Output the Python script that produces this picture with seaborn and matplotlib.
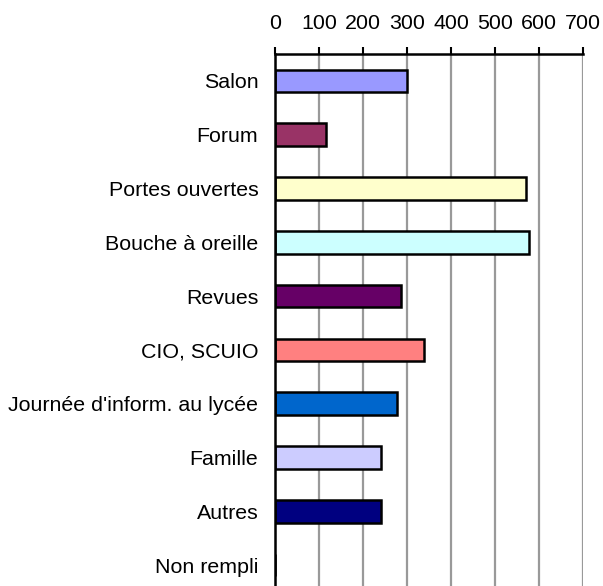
import numpy as np
import pandas as pd
import matplotlib.pyplot as plt
import seaborn as sns

# data
categories = ["Salon", "Forum", "Portes ouvertes", "Bouche à oreille", "Revues",
              "CIO, SCUIO", "Journée d'inform. au lycée", "Famille", "Autres", "Non rempli"]
values = [300, 116, 570, 577, 287, 339, 278, 241, 240, 0]
colors = ["#9999FF", "#993366", "#FFFFCC", "#CCFFFF", "#660066",
          "#FF8080", "#0066CC", "#CCCCFF", "#000080", "#FFFFFF"]
xticks = [0, 100, 200, 300, 400, 500, 600, 700]

df = pd.DataFrame({"cat": categories, "val": values})

sns.set_style("white")
plt.rcParams["font.family"] = ["Liberation Sans", "DejaVu Sans"]

fig = plt.figure(figsize=(6.03, 5.86), dpi=100)
ax = fig.add_axes([0.456, -0.0102, 0.511, 0.918])

sns.barplot(data=df, x="val", y="cat", hue="cat", palette=colors, legend=False,
            orient="h", width=0.42, saturation=1, edgecolor="black", linewidth=1.8,
            ax=ax, zorder=3)

# grid + axes
ax.set_xlim(0, 700)
ax.set_ylim(len(categories) - 0.5, -0.5)
ax.set_xticks(xticks)
ax.xaxis.grid(True, color="#999999", linewidth=1.6, zorder=0)
ax.xaxis.tick_top()
ax.xaxis.set_label_position("top")
ax.tick_params(axis="x", which="major", direction="out", length=5, width=1.5,
               color="black", labelsize=15.4, labelcolor="black", pad=10)
ax.set_xlabel("")
ax.set_ylabel("")

ax.set_yticks(np.arange(len(categories)))
ax.set_yticklabels(categories)
ax.set_yticks(np.arange(len(categories) + 1) - 0.5, minor=True)
ax.tick_params(axis="y", which="major", length=0, labelsize=15.4, labelcolor="black", pad=12)
ax.tick_params(axis="y", which="minor", direction="out", length=5, width=1.5, color="black")

for s in ["right", "bottom"]:
    ax.spines[s].set_visible(False)
for s in ["top", "left"]:
    ax.spines[s].set_color("black")
    ax.spines[s].set_linewidth(1.8)
    ax.spines[s].set_zorder(5)

fig.savefig("out.png", dpi=100)
